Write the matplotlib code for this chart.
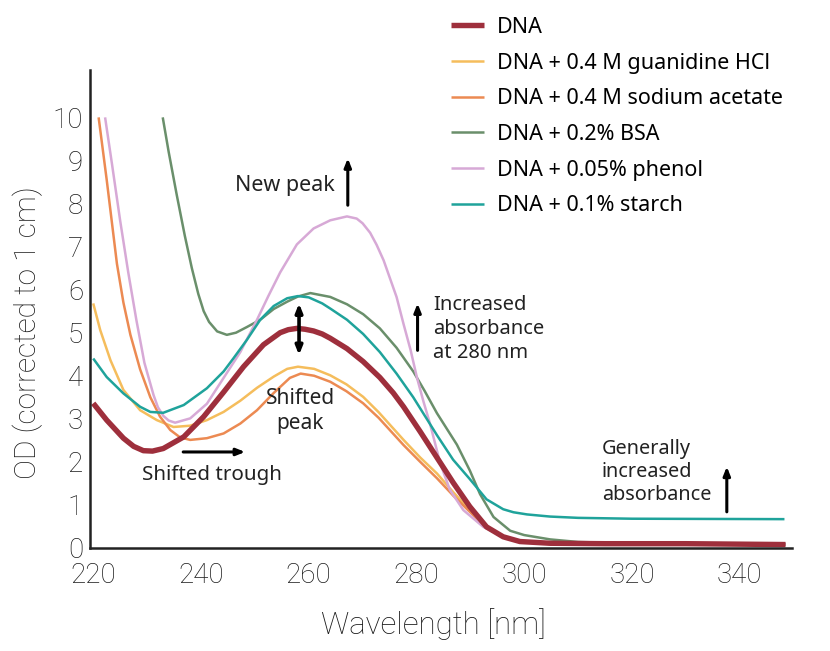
import matplotlib
matplotlib.use("Agg")
import matplotlib.pyplot as plt

# Wavelength (nm) / OD readings for each sample
dna_wl = [220, 222.5, 225.6, 227.5, 229.3, 231, 233, 236.8, 240.5, 244.2, 247.9, 251.6, 254.7, 256.2,
          257.8, 259.3, 260.9, 262.5, 264, 267.1, 270.1, 273.2, 275.7, 277.6, 280.7, 283.8, 286.8,
          289.9, 293, 296.1, 299.2, 304.8, 315, 330, 348.5]
dna_od = [3.36, 2.97, 2.55, 2.36, 2.26, 2.25, 2.31, 2.58, 3.05, 3.62, 4.21, 4.72, 5.0, 5.07,
          5.1, 5.08, 5.04, 4.97, 4.87, 4.63, 4.33, 3.96, 3.6, 3.28, 2.7, 2.1, 1.52,
          0.96, 0.49, 0.26, 0.15, 0.11, 0.1, 0.1, 0.08]

guan_wl = [220, 221.3, 223.2, 225.6, 228.7, 231.8, 234.9, 238, 241.1, 244.2, 247.3, 250.4, 253.5, 256,
           258, 261, 264, 267, 270.1, 273, 277.6, 280.7, 283.8, 286.8, 289.9, 293, 296.1, 299.2, 305, 348.5]
guan_od = [5.68, 5.06, 4.36, 3.67, 3.2, 2.97, 2.81, 2.84, 2.97, 3.16, 3.42, 3.72, 3.98, 4.16,
           4.21, 4.16, 4.01, 3.8, 3.51, 3.15, 2.51, 2.1, 1.73, 1.3, 0.88, 0.49, 0.26, 0.15, 0.11, 0.08]

naac_wl = [221, 222.5, 224.4, 225.6, 226.9, 228.7, 230.6, 232.4, 234.3, 236.1, 238, 241.1, 244.2, 247.3,
           250.4, 253.5, 256.5, 258.5, 261, 264, 267, 270.1, 273, 277.6, 280.7, 283.8, 286.8, 289.9, 293,
           296.1, 299.2, 305, 348.5]
naac_od = [10, 8.55, 6.6, 5.7, 4.95, 4.15, 3.5, 3.05, 2.74, 2.57, 2.51, 2.55, 2.66, 2.89,
           3.2, 3.6, 3.95, 4.05, 4.0, 3.86, 3.64, 3.36, 3.02, 2.39, 2.0, 1.62, 1.22, 0.84, 0.47,
           0.25, 0.15, 0.11, 0.08]

bsa_wl = [232.9, 234, 235.5, 237, 238.3, 239.5, 240.5, 241.5, 243, 244.8, 246.5, 248.5, 251, 253.5, 256,
          258, 260.3, 264, 267.1, 270.1, 273.2, 276.3, 279.4, 281.5, 283.8, 287.5, 289.9, 291.8, 294.3,
          297.4, 300, 304.8, 310, 320, 348.5]
bsa_od = [10, 9.2, 8.2, 7.25, 6.5, 5.9, 5.5, 5.25, 5.03, 4.95, 5.0, 5.13, 5.3, 5.55, 5.72,
          5.84, 5.92, 5.83, 5.66, 5.43, 5.1, 4.65, 4.1, 3.65, 3.13, 2.4, 1.8, 1.25, 0.72,
          0.4, 0.3, 0.2, 0.14, 0.11, 0.09]

phen_wl = [222.2, 223.5, 225, 226.5, 228, 229.5, 231.2, 232, 233, 234, 235.2, 238, 241.1, 244.2, 247.3,
           250.4, 252.5, 254.7, 257.8, 260.9, 264, 267.1, 268.9, 270, 271.4, 272.6, 273.9, 276.3, 277.6,
           278.9, 280.1, 281.3, 282.5, 284.4, 286.2, 288.7, 292.4, 296.1, 300, 310, 348.5]
phen_od = [10, 8.9, 7.6, 6.4, 5.3, 4.3, 3.55, 3.27, 3.07, 2.96, 2.91, 3.01, 3.35, 3.95, 4.55,
           5.3, 5.85, 6.4, 7.05, 7.42, 7.61, 7.7, 7.65, 7.54, 7.32, 7.04, 6.68, 5.83, 5.2,
           4.6, 3.95, 3.4, 2.89, 1.97, 1.35, 0.88, 0.49, 0.26, 0.15, 0.1, 0.08]

starch_wl = [220, 222.5, 225.6, 228.7, 230.6, 233, 236.8, 241.1, 244.2, 246, 248.5, 251, 253.5, 256, 258,
             260, 262.5, 264, 267.1, 270.1, 273.2, 276.3, 279.4, 281.9, 283.8, 286.8, 289.9, 293, 296.1,
             298, 300.5, 304.8, 310, 320, 348.3]
starch_od = [4.4, 3.97, 3.59, 3.28, 3.16, 3.14, 3.32, 3.71, 4.1, 4.4, 4.83, 5.3, 5.62, 5.8, 5.85,
             5.82, 5.68, 5.56, 5.3, 4.97, 4.55, 4.05, 3.5, 3.0, 2.62, 2.05, 1.6, 1.13, 0.9,
             0.83, 0.78, 0.73, 0.7, 0.68, 0.67]

labels = ["DNA", "DNA + 0.4 M guanidine HCl", "DNA + 0.4 M sodium acetate",
          "DNA + 0.2% BSA", "DNA + 0.05% phenol", "DNA + 0.1% starch"]
colors = ["#9e2f3c", "#f5bd5c", "#ec8a52", "#6a8f6b", "#d7a9d6", "#1fa39b"]

TXT = ["Noto Sans", "DejaVu Sans"]
NUM = ["Roboto", "DejaVu Sans"]

fig = plt.figure(figsize=(8.3, 6.51), dpi=100)
ax = fig.add_axes([90 / 830, 1 - 548 / 651, 702 / 830, 478 / 651])

series = [(guan_wl, guan_od), (naac_wl, naac_od), (bsa_wl, bsa_od),
          (phen_wl, phen_od), (starch_wl, starch_od)]
handles = [None] * 6
for i, (wl, od) in enumerate(series):
    handles[i + 1], = ax.plot(wl, od, color=colors[i + 1], lw=1.8, solid_capstyle="butt",
                              solid_joinstyle="round")
handles[0], = ax.plot(dna_wl, dna_od, color=colors[0], lw=3.9, solid_capstyle="butt",
                      solid_joinstyle="round")

ax.set_xlim(219.4, 349.7)
ax.set_ylim(0, 11.1)
ax.set_xticks(range(220, 341, 20))
ax.set_yticks(range(0, 11))
for s in ["top", "right"]:
    ax.spines[s].set_visible(False)
for s in ["left", "bottom"]:
    ax.spines[s].set_linewidth(1.8)
    ax.spines[s].set_color("#222222")
ax.tick_params(length=0, labelsize=20, labelcolor="#1a1a1a")
ax.tick_params(axis="x", pad=10)
ax.tick_params(axis="y", pad=5)
for lab in ax.get_xticklabels() + ax.get_yticklabels():
    lab.set_family(NUM)
    lab.set_fontweight("light")

ax.set_xlabel("Wavelength [nm]", fontsize=22.5, family=NUM, fontweight="light", color="#1a1a1a")
ax.set_ylabel("OD (corrected to 1 cm)", fontsize=21.5, family=NUM, fontweight="light", color="#1a1a1a")
ax.xaxis.set_label_coords(0.489, -0.125)
ax.yaxis.set_label_coords(-0.067, 0.45)

fig.legend(handles, labels, loc="upper left", bbox_to_anchor=(451 / 830, 1 - 17 / 651),
           frameon=False, borderaxespad=0, borderpad=0, handlelength=1.55, handletextpad=0.6,
           labelspacing=0.68, prop={"family": TXT, "size": 15.5})

tkw = dict(family=TXT, color="#222222")
akw = dict(arrowstyle="-|>,head_length=0.5,head_width=0.2", color="black", lw=2.2, shrinkA=0, shrinkB=0)

ax.text(255.6, 8.42, "New peak", ha="center", va="center", fontsize=15.5, **tkw)
ax.annotate("", xy=(267.25, 9.05), xytext=(267.25, 7.96), arrowprops=akw)

ax.annotate("", xy=(258.2, 5.68), xytext=(258.2, 4.48),
            arrowprops=dict(arrowstyle="<|-|>,head_length=0.5,head_width=0.2", color="black", lw=2.6,
                            shrinkA=0, shrinkB=0))
ax.text(258.4, 3.17, "Shifted\npeak", ha="center", va="center", linespacing=1.25, fontsize=15, **tkw)

ax.annotate("", xy=(280.2, 5.68), xytext=(280.2, 4.59), arrowprops=akw)
ax.text(283.1, 5.08, "Increased\nabsorbance\nat 280 nm", ha="left", va="center", linespacing=1.25,
        fontsize=14.5, **tkw)

ax.annotate("", xy=(248.2, 2.23), xytext=(236.7, 2.23), arrowprops=akw)
ax.text(242.0, 1.69, "Shifted trough", ha="center", va="center", fontsize=14.8, **tkw)

ax.text(314.4, 1.77, "Generally\nincreased\nabsorbance", ha="left", va="center", linespacing=1.2,
        fontsize=14.3, **tkw)
ax.annotate("", xy=(337.6, 1.89), xytext=(337.6, 0.84), arrowprops=akw)

fig.savefig("out.png", dpi=100)
